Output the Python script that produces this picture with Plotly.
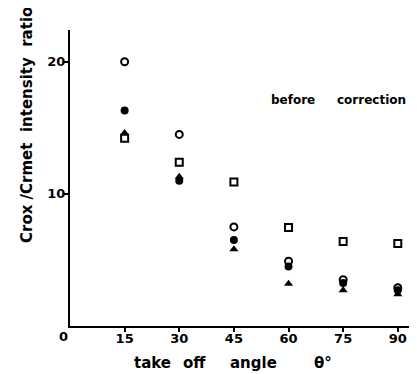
import plotly.graph_objects as go

angles = [15, 30, 45, 60, 75, 90]
open_circle = [20.0, 14.5, 7.5, 4.9, 3.5, 2.9]
filled_circle = [16.3, 11.0, 6.5, 4.5, 3.25, 2.7]
open_square = [14.2, 12.4, 10.9, 7.45, 6.4, 6.25]
filled_triangle = [14.6, 11.3, 5.8, 3.2, 2.7, 2.4]

x_ticks = [15, 30, 45, 60, 75, 90]
y_ticks = [10, 20]

FONT = "DejaVu Sans"
BLACK = "#000000"

fig = go.Figure()
fig.add_trace(go.Scatter(x=angles, y=open_square, mode="markers",
                         marker=dict(symbol="square-open", size=7, color=BLACK, line=dict(width=2, color=BLACK))))
fig.add_trace(go.Scatter(x=angles, y=open_circle, mode="markers",
                         marker=dict(symbol="circle-open", size=7, color=BLACK, line=dict(width=2, color=BLACK))))
fig.add_trace(go.Scatter(x=angles, y=filled_triangle, mode="markers",
                         marker=dict(symbol="triangle-up", size=8, color=BLACK)))
fig.add_trace(go.Scatter(x=angles, y=filled_circle, mode="markers",
                         marker=dict(symbol="circle", size=8, color=BLACK)))

# page body has an 8px margin, so the figure is sized 8px smaller
fig.update_layout(
    width=409, height=366,
    margin=dict(l=62, r=1, t=22, b=48),
    paper_bgcolor="white", plot_bgcolor="white",
    showlegend=False,
    font=dict(family=FONT, color=BLACK),
    xaxis=dict(range=[0, 95], tickvals=x_ticks, ticktext=[str(v) for v in x_ticks],
               showgrid=False, zeroline=False, showline=True, linewidth=2, linecolor=BLACK,
               ticks="outside", ticklen=4, tickwidth=2, tickcolor=BLACK, ticklabelstandoff=-5,
               tickfont=dict(family=FONT, size=13, weight="bold", color=BLACK)),
    yaxis=dict(range=[0, 22.4], tickvals=y_ticks, ticktext=[str(v) for v in y_ticks],
               showgrid=False, zeroline=False, showline=True, linewidth=2, linecolor=BLACK,
               ticks="outside", ticklen=4, tickwidth=2, tickcolor=BLACK, ticklabelstandoff=-4,
               tickfont=dict(family=FONT, size=13, weight="bold", color=BLACK)),
)

def px_x(p):
    return (p - 70) / 346

def px_y(p):
    return (326 - p) / 296

fig.add_annotation(text="0", xref="x", yref="paper", x=0, y=0, xshift=-7, yshift=-10,
                   xanchor="center", yanchor="middle", showarrow=False,
                   font=dict(family=FONT, size=13, weight="bold", color=BLACK))
fig.add_annotation(text="Crox /Crmet  intensity  ratio", xref="paper", yref="paper",
                   x=px_x(27), y=px_y(125), textangle=-90, xanchor="center", yanchor="middle",
                   showarrow=False, font=dict(family=FONT, size=15, weight="bold", color=BLACK))

title_words = ["take", "off", "angle", "θ°"]
title_centers = [152.5, 194, 254, 323]
for word, cx in zip(title_words, title_centers):
    fig.add_annotation(text=word, xref="paper", yref="paper", x=px_x(cx), y=px_y(363),
                       xanchor="center", yanchor="middle", showarrow=False,
                       font=dict(family=FONT, size=15, weight="bold", color=BLACK))

note_words = ["before", "correction"]
note_centers = [292.5, 371]
for word, cx in zip(note_words, note_centers):
    fig.add_annotation(text=word, xref="paper", yref="paper", x=px_x(cx), y=px_y(100),
                       xanchor="center", yanchor="middle", showarrow=False,
                       font=dict(family=FONT, size=12, weight="bold", color=BLACK))

fig.write_html("out.html")
